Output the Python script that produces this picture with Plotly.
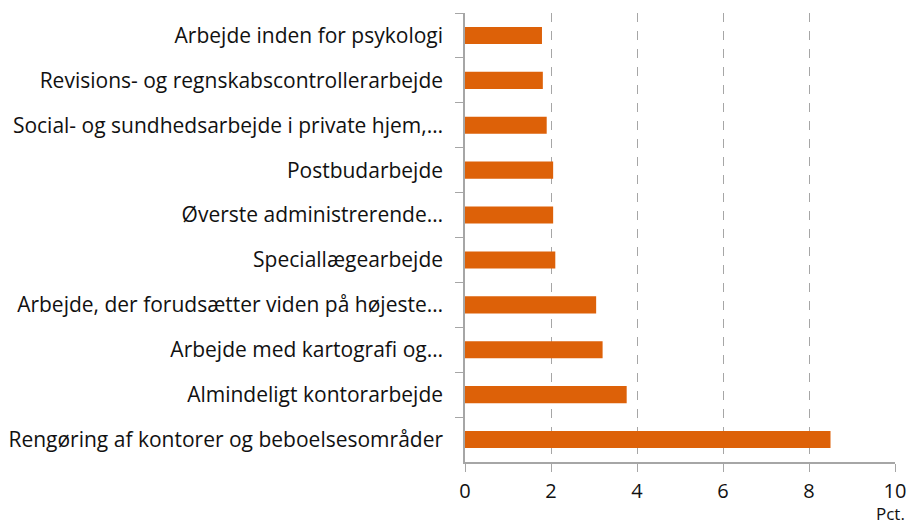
import plotly.graph_objects as go

categories = [
    "Arbejde inden for psykologi",
    "Revisions- og regnskabscontrollerarbejde",
    "Social- og sundhedsarbejde i private hjem,…",
    "Postbudarbejde",
    "Øverste administrerende…",
    "Speciallægearbejde",
    "Arbejde, der forudsætter viden på højeste…",
    "Arbejde med kartografi og…",
    "Almindeligt kontorarbejde",
    "Rengøring af kontorer og beboelsesområder",
]
values = [1.79, 1.81, 1.9, 2.05, 2.05, 2.1, 3.05, 3.2, 3.76, 8.5]
x_ticks = [0, 2, 4, 6, 8, 10]
x_unit = "Pct."

fig = go.Figure(go.Bar(
    x=values, y=categories, orientation="h",
    marker=dict(color="#DD6108", line=dict(width=0)),
    width=0.38,
))

axis_col = "#A6A6A6"
fig.update_layout(
    width=915, height=528,
    margin=dict(l=465, r=20, t=13, b=66),
    paper_bgcolor="white", plot_bgcolor="white",
    font=dict(family="Open Sans, sans-serif", size=21, color="#111111"),
    showlegend=False,
    xaxis=dict(
        range=[0, 10], tickvals=x_ticks, showgrid=True, automargin=False,
        gridcolor="#A6A6A6", griddash="dash", gridwidth=1,
        showline=True, linecolor=axis_col, linewidth=1.5,
        ticks="outside", ticklen=8, tickcolor=axis_col,
        tickfont=dict(size=20), zeroline=False, ticklabelstandoff=2,
    ),
    yaxis=dict(
        autorange="reversed", showline=True, linecolor=axis_col, linewidth=1.5,
        ticks="outside", ticklen=8, tickcolor=axis_col, tickson="boundaries",
        showgrid=False, ticklabelstandoff=16, automargin=False,
    ),
    annotations=[dict(
        text=x_unit, xref="paper", yref="paper", x=1.0, y=0, yshift=-65, xshift=12,
        xanchor="right", yanchor="bottom", showarrow=False,
        font=dict(size=17),
    )],
)

fig.write_html(
    "out.html",
    config={"displayModeBar": False},
    post_script="document.body.style.margin='0';document.body.style.overflow='hidden';",
)
